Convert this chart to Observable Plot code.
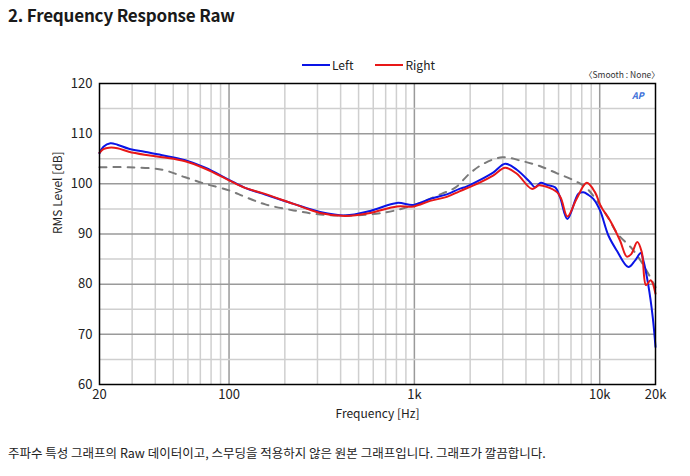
<!DOCTYPE html>
<html>
<head>
<meta charset="utf-8">
<script src="https://cdn.jsdelivr.net/npm/d3@7"></script>
<script src="https://cdn.jsdelivr.net/npm/@observablehq/plot@0.6"></script>
<style>
  html, body { margin: 0; padding: 0; background: #fff; }
  body { width: 690px; height: 476px; position: relative; overflow: hidden; font-family: "Noto Sans CJK KR", "Noto Sans", sans-serif; color: #222; }
  #title { position: absolute; left: 8px; top: 2px; font-size: 17px; font-weight: bold; color: #1a1a1a; letter-spacing: -0.2px; }
  #legend { position: absolute; left: 302px; top: 56px; font-size: 12px; display: flex; align-items: center; }
  .sw { display: inline-block; width: 28px; height: 2px; margin-right: 2px; }
  #smooth { position: absolute; left: 584px; top: 68px; font-size: 8.5px; color: #333; }
  #ap { position: absolute; left: 632px; top: 89px; font-size: 9px; font-weight: bold; font-style: italic; color: #3a6fd8; }
  #chart { position: absolute; left: 0; top: 40px; }
  #caption { position: absolute; left: 8px; top: 443px; font-size: 12.5px; color: #222; }
</style>
</head>
<body>
<div id="title">2. Frequency Response Raw</div>
<div id="legend"></div>
<div id="smooth">〈Smooth : None〉</div>
<div id="ap">AP</div>
<div id="chart"></div>
<div id="caption">주파수 특성 그래프의 Raw 데이터이고, 스무딩을 적용하지 않은 원본 그래프입니다. 그래프가 깔끔합니다.</div>
<script>
// Series: Left channel
const leftFreq = [20, 21, 22.9, 25, 28.8, 35, 43.6, 58, 74.5, 100, 122, 150, 223, 310, 424, 578, 805, 989, 1217, 1497, 1750, 1920, 2264, 2672, 3089, 3571, 4211, 4480, 4810, 5178, 5742, 6100, 6695, 7673, 8162, 8686, 9240, 10040, 11140, 12360, 14270, 15500, 16650, 17200, 18290, 19330, 20000];
const leftDb   = [106.1, 107.4, 108.1, 107.8, 107.0, 106.4, 105.7, 104.7, 103.2, 100.8, 99.2, 98.1, 96.0, 94.4, 93.7, 94.6, 96.2, 95.8, 97.0, 97.9, 99.0, 99.5, 100.8, 102.3, 104.0, 102.8, 100.3, 99.3, 100.2, 99.8, 99.3, 97.4, 93.0, 98.0, 98.3, 97.8, 97.0, 94.7, 89.7, 86.7, 83.4, 84.7, 86.2, 84.7, 79.8, 73.4, 67.5];

// Series: Right channel
const rightFreq = [20, 21, 22.5, 25, 28.8, 35, 43.6, 58, 74.5, 100, 122, 150, 223, 310, 424, 578, 805, 989, 1217, 1497, 1750, 2264, 2672, 3089, 3571, 4300, 4700, 5178, 5900, 6200, 6695, 7500, 8513, 9440, 10150, 11370, 12870, 13990, 14800, 15950, 16860, 17780, 18840, 20000];
const rightDb   = [106.2, 106.9, 107.2, 107.1, 106.4, 105.8, 105.3, 104.5, 103.0, 100.7, 99.2, 98.2, 96.0, 94.2, 93.6, 94.2, 95.5, 95.5, 96.6, 97.4, 98.5, 100.3, 101.7, 103.2, 102.0, 99.0, 99.7, 99.4, 98.3, 97.0, 93.5, 97.0, 100.2, 98.3, 95.5, 92.7, 88.7, 85.5, 86.0, 88.4, 86.4, 79.8, 80.8, 78.1];

// Target (dashed gray)
const targetFreq = [20, 28.8, 43.6, 58, 74.5, 100, 122, 157, 223, 310, 450, 700, 1000, 1400, 1670, 1980, 2360, 2980, 3850, 4780, 5880, 7240, 8400, 9500, 11000, 12500, 15000, 17200, 20000];
const targetDb   = [103.3, 103.3, 102.8, 101.3, 100.0, 98.7, 97.4, 95.9, 94.7, 93.9, 93.7, 94.3, 95.8, 98.0, 99.3, 102.0, 104.0, 105.3, 104.5, 103.5, 102.1, 100.7, 99.3, 97.0, 93.5, 90.0, 87.0, 83.8, 79.4];

// Tick labels and grid values
const xTickValues = [20, 100, 1000, 10000, 20000];
const xTickLabels = ["20", "100", "1k", "10k", "20k"];
const xMinorGrid = [30, 40, 50, 60, 70, 80, 90, 200, 300, 400, 500, 600, 700, 800, 900, 2000, 3000, 4000, 5000, 6000, 7000, 8000, 9000];
const xMajorGrid = [100, 1000, 10000];
const yTickValues = [60, 70, 80, 90, 100, 110, 120];
const yMinorGrid = [65, 75, 85, 95, 105, 115];
const yMajorGrid = [70, 80, 90, 100, 110];

const seriesNames = ["Left", "Right"];
const seriesColors = ["#0a14e6", "#e81818"];

const toRows = (f, v) => f.map((x, i) => ({f: x, db: v[i]}));
const left = toRows(leftFreq, leftDb);
const right = toRows(rightFreq, rightDb);
const target = toRows(targetFreq, targetDb);

// legend
const lg = document.getElementById("legend");
seriesNames.forEach((n, i) => {
  const item = document.createElement("span");
  item.style.display = "inline-flex";
  item.style.alignItems = "center";
  item.style.marginRight = i === 0 ? "22px" : "0";
  item.innerHTML = `<span class="sw" style="background:${seriesColors[i]}"></span><span>${n}</span>`;
  lg.appendChild(item);
});

const font = "'Noto Sans CJK KR', 'Noto Sans', sans-serif";

const chart = Plot.plot({
  width: 690,
  height: 400,
  marginTop: 43,
  marginBottom: 56,
  marginLeft: 99,
  marginRight: 35,
  style: {fontFamily: font, fontSize: "13px", color: "#222", background: "transparent"},
  x: {type: "log", domain: [20, 20000]},
  y: {domain: [60, 120]},
  marks: [
    Plot.ruleX(xMinorGrid, {stroke: "#cfcfcf", strokeWidth: 1.5}),
    Plot.ruleX(xMajorGrid, {stroke: "#9a9a9a", strokeWidth: 1.5}),
    Plot.ruleY(yMinorGrid, {stroke: "#cfcfcf", strokeWidth: 1.5}),
    Plot.ruleY(yMajorGrid, {stroke: "#9a9a9a", strokeWidth: 1.5}),
    Plot.line(target, {x: "f", y: "db", stroke: "#7a7a7a", strokeWidth: 2, strokeDasharray: "7,7", curve: "catmull-rom"}),
    Plot.line(left, {x: "f", y: "db", stroke: seriesColors[0], strokeWidth: 2, curve: "catmull-rom"}),
    Plot.line(right, {x: "f", y: "db", stroke: seriesColors[1], strokeWidth: 2, curve: "catmull-rom"}),
    Plot.frame({stroke: "#000", strokeWidth: 1.5}),
    Plot.axisX({ticks: xTickValues, tickFormat: (d) => xTickLabels[xTickValues.indexOf(d)], tickSize: 0, tickPadding: 5, label: null, fontSize: 13}),
    Plot.axisY({ticks: yTickValues, tickSize: 0, tickPadding: 7, label: null, fontSize: 13}),
    Plot.text(["Frequency [Hz]"], {frameAnchor: "bottom", lineAnchor: "middle", dy: 30, fontSize: 12, fill: "#222"}),
    Plot.text(["RMS Level [dB]"], {frameAnchor: "left", lineAnchor: "middle", dx: -41, rotate: -90, fontSize: 12, fill: "#222"})
  ]
});
document.getElementById("chart").appendChild(chart);
</script>
</body>
</html>
